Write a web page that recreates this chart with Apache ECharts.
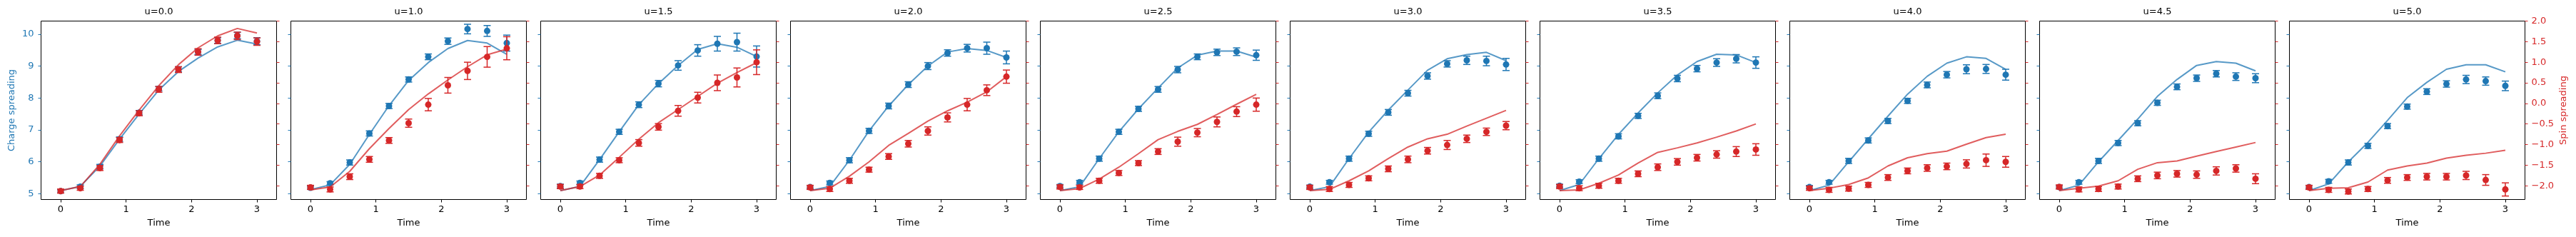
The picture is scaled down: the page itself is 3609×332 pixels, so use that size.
<!DOCTYPE html>
<html>
<head>
<meta charset="utf-8">
<script src="https://cdn.jsdelivr.net/npm/echarts@6.0.0/dist/echarts.min.js"></script>
<style>
  html, body { margin: 0; padding: 0; background: #fff; }
  #chart { width: 3609px; height: 332px; }
</style>
</head>
<body>
<div id="chart"></div>
<script>
// Evolution times shared by all panels
const times = [0, 0.3, 0.6, 0.9, 1.2, 1.5, 1.8, 2.1, 2.4, 2.7, 3.0];
const panelTitles = ['u=0.0', 'u=1.0', 'u=1.5', 'u=2.0', 'u=2.5', 'u=3.0', 'u=3.5', 'u=4.0', 'u=4.5', 'u=5.0'];
const timeTicks = [0, 1, 2, 3];
const chargeTicks = [5, 6, 7, 8, 9, 10];
const spinTicks = [-2, -1.5, -1, -0.5, 0, 0.5, 1, 1.5, 2];

// Charge spreading: simulation curve, measured points and their errors (one row per u)
const chargeTheory = [
  [5.10, 5.23, 5.87, 6.71, 7.50, 8.25, 8.83, 9.25, 9.60, 9.81, 9.69],
  [5.13, 5.28, 5.92, 6.86, 7.76, 8.55, 9.11, 9.55, 9.80, 9.72, 9.37],
  [5.10, 5.23, 6.07, 6.94, 7.79, 8.45, 9.02, 9.52, 9.70, 9.59, 9.30],
  [5.10, 5.23, 6.05, 6.97, 7.75, 8.42, 9.00, 9.44, 9.55, 9.49, 9.27],
  [5.10, 5.22, 6.10, 6.94, 7.66, 8.31, 8.94, 9.34, 9.47, 9.47, 9.28],
  [5.10, 5.22, 6.10, 6.93, 7.62, 8.25, 8.87, 9.23, 9.36, 9.43, 9.17],
  [5.10, 5.29, 6.10, 6.86, 7.53, 8.16, 8.72, 9.14, 9.37, 9.35, 9.11],
  [5.10, 5.27, 6.00, 6.72, 7.43, 8.12, 8.68, 9.09, 9.29, 9.24, 8.90],
  [5.10, 5.27, 6.00, 6.67, 7.34, 8.05, 8.58, 9.02, 9.14, 9.09, 8.85],
  [5.10, 5.31, 6.00, 6.61, 7.30, 8.01, 8.49, 8.90, 9.04, 9.04, 8.82]
];
const chargeMeasured = [
  [5.08, 5.22, 5.85, 6.71, 7.54, 8.29, 8.90, 9.44, 9.80, 9.96, 9.78],
  [5.19, 5.33, 5.98, 6.89, 7.75, 8.58, 9.29, 9.78, 10.16, 10.10, 9.72],
  [5.24, 5.34, 6.07, 6.94, 7.79, 8.45, 9.02, 9.49, 9.70, 9.75, 9.30],
  [5.21, 5.34, 6.05, 6.97, 7.75, 8.42, 9.00, 9.41, 9.56, 9.56, 9.27],
  [5.24, 5.36, 6.10, 6.94, 7.66, 8.27, 8.89, 9.29, 9.43, 9.45, 9.34],
  [5.22, 5.36, 6.10, 6.88, 7.55, 8.15, 8.69, 9.07, 9.18, 9.16, 9.05],
  [5.25, 5.38, 6.10, 6.80, 7.44, 8.07, 8.61, 8.92, 9.11, 9.23, 9.11],
  [5.21, 5.36, 6.03, 6.67, 7.28, 7.91, 8.41, 8.73, 8.90, 8.91, 8.73],
  [5.21, 5.36, 6.03, 6.59, 7.21, 7.85, 8.35, 8.62, 8.76, 8.67, 8.62],
  [5.21, 5.39, 5.98, 6.50, 7.12, 7.73, 8.20, 8.44, 8.58, 8.53, 8.38]
];
const chargeError = [
  [0.05, 0.06, 0.07, 0.07, 0.07, 0.07, 0.08, 0.08, 0.09, 0.10, 0.11],
  [0.05, 0.05, 0.08, 0.08, 0.08, 0.08, 0.09, 0.10, 0.15, 0.17, 0.25],
  [0.06, 0.06, 0.08, 0.08, 0.09, 0.10, 0.15, 0.18, 0.23, 0.28, 0.33],
  [0.05, 0.06, 0.08, 0.08, 0.09, 0.09, 0.11, 0.10, 0.12, 0.19, 0.20],
  [0.05, 0.06, 0.08, 0.08, 0.08, 0.09, 0.10, 0.09, 0.10, 0.12, 0.16],
  [0.05, 0.06, 0.08, 0.08, 0.09, 0.09, 0.10, 0.10, 0.13, 0.15, 0.19],
  [0.05, 0.06, 0.08, 0.08, 0.08, 0.09, 0.10, 0.10, 0.12, 0.13, 0.18],
  [0.05, 0.06, 0.08, 0.08, 0.08, 0.08, 0.09, 0.10, 0.14, 0.14, 0.17],
  [0.05, 0.06, 0.08, 0.08, 0.08, 0.08, 0.09, 0.10, 0.10, 0.12, 0.14],
  [0.05, 0.06, 0.08, 0.08, 0.08, 0.08, 0.09, 0.10, 0.13, 0.13, 0.15]
];

// Spin spreading: simulation curve, measured points and their errors (one row per u)
const spinTheory = [
  [-2.12, -2.02, -1.48, -0.79, -0.16, 0.43, 0.94, 1.35, 1.64, 1.82, 1.71],
  [-2.10, -2.03, -1.65, -1.10, -0.61, -0.15, 0.23, 0.57, 0.89, 1.18, 1.32],
  [-2.12, -2.02, -1.74, -1.31, -0.87, -0.47, -0.15, 0.17, 0.49, 0.75, 0.99],
  [-2.12, -2.06, -1.77, -1.42, -1.02, -0.73, -0.43, -0.18, 0.03, 0.28, 0.65],
  [-2.12, -2.07, -1.84, -1.55, -1.22, -0.88, -0.68, -0.51, -0.27, -0.02, 0.22],
  [-2.12, -2.09, -1.88, -1.64, -1.34, -1.06, -0.86, -0.75, -0.55, -0.36, -0.17],
  [-2.12, -2.10, -1.94, -1.74, -1.45, -1.19, -1.08, -0.96, -0.82, -0.67, -0.50],
  [-2.12, -2.06, -1.97, -1.81, -1.52, -1.32, -1.22, -1.16, -0.99, -0.83, -0.75],
  [-2.12, -2.06, -2.01, -1.88, -1.60, -1.44, -1.40, -1.28, -1.17, -1.06, -0.95],
  [-2.12, -2.06, -2.05, -1.91, -1.62, -1.52, -1.45, -1.33, -1.26, -1.21, -1.14]
];
const spinMeasured = [
  [-2.13, -2.06, -1.57, -0.89, -0.24, 0.34, 0.82, 1.25, 1.53, 1.64, 1.50],
  [-2.04, -2.09, -1.78, -1.36, -0.90, -0.48, -0.03, 0.44, 0.79, 1.13, 1.34],
  [-2.02, -2.02, -1.76, -1.38, -0.96, -0.57, -0.18, 0.14, 0.50, 0.63, 1.00],
  [-2.04, -2.08, -1.88, -1.61, -1.29, -0.98, -0.67, -0.34, -0.03, 0.32, 0.65],
  [-2.03, -2.04, -1.88, -1.69, -1.45, -1.17, -0.93, -0.71, -0.45, -0.20, -0.03],
  [-2.04, -2.08, -1.98, -1.82, -1.59, -1.36, -1.15, -1.01, -0.86, -0.69, -0.54],
  [-2.02, -2.06, -2.00, -1.88, -1.71, -1.55, -1.42, -1.32, -1.24, -1.17, -1.12],
  [-2.06, -2.10, -2.07, -1.98, -1.80, -1.64, -1.57, -1.53, -1.47, -1.38, -1.42],
  [-2.03, -2.09, -2.08, -2.02, -1.83, -1.75, -1.71, -1.73, -1.64, -1.58, -1.83],
  [-2.04, -2.10, -2.14, -2.08, -1.87, -1.80, -1.78, -1.78, -1.75, -1.86, -2.09]
];
const spinError = [
  [0.05, 0.05, 0.06, 0.06, 0.06, 0.07, 0.07, 0.08, 0.08, 0.09, 0.09],
  [0.05, 0.06, 0.07, 0.07, 0.07, 0.10, 0.15, 0.19, 0.21, 0.25, 0.28],
  [0.05, 0.05, 0.06, 0.06, 0.08, 0.08, 0.13, 0.13, 0.19, 0.23, 0.30],
  [0.05, 0.06, 0.06, 0.06, 0.07, 0.08, 0.10, 0.11, 0.15, 0.13, 0.16],
  [0.05, 0.05, 0.06, 0.06, 0.06, 0.07, 0.11, 0.10, 0.12, 0.12, 0.16],
  [0.05, 0.06, 0.06, 0.06, 0.07, 0.08, 0.08, 0.11, 0.09, 0.09, 0.10],
  [0.05, 0.06, 0.06, 0.06, 0.07, 0.08, 0.08, 0.08, 0.09, 0.12, 0.14],
  [0.05, 0.06, 0.06, 0.06, 0.07, 0.07, 0.08, 0.08, 0.10, 0.15, 0.13],
  [0.05, 0.06, 0.06, 0.06, 0.07, 0.08, 0.08, 0.09, 0.10, 0.09, 0.12],
  [0.05, 0.06, 0.06, 0.06, 0.07, 0.07, 0.08, 0.08, 0.10, 0.13, 0.16]
];

const BLUE = '#1f77b4';
const RED = '#d62728';
const FONT = 'DejaVu Sans';
const FONT_SIZE = 13;

// half-pixel offsets keep the 1px frame crisp
const PANEL_LEFT = 57.5;
const PANEL_STEP = 350;
const PANEL_W = 330;
const PANEL_TOP = 29.5;
const PANEL_H = 250;

function fmtSpin(v) {
  return (v < 0 ? '\u2212' : '') + Math.abs(v).toFixed(1);
}

// Error bar with caps plus a filled circle at the measured value
function errorBarRenderer(color) {
  return function (params, api) {
    const x = api.value(0), y = api.value(1), e = api.value(2);
    const c = api.coord([x, y]);
    const lo = api.coord([x, y - e]);
    const hi = api.coord([x, y + e]);
    const cap = 5;
    const ls = { stroke: color, lineWidth: 1.5 };
    return {
      type: 'group',
      children: [
        { type: 'line', shape: { x1: c[0], y1: lo[1], x2: c[0], y2: hi[1] }, style: ls },
        { type: 'line', shape: { x1: c[0] - cap, y1: lo[1], x2: c[0] + cap, y2: lo[1] }, style: ls },
        { type: 'line', shape: { x1: c[0] - cap, y1: hi[1], x2: c[0] + cap, y2: hi[1] }, style: ls },
        { type: 'circle', shape: { cx: c[0], cy: c[1], r: 4.5 }, style: { fill: color } }
      ]
    };
  };
}

const grids = [], xAxes = [], yAxes = [], series = [], graphics = [];
const nPanels = panelTitles.length;

for (let k = 0; k < nPanels; k++) {
  const left = PANEL_LEFT + PANEL_STEP * k;
  grids.push({
    left: left, top: PANEL_TOP, width: PANEL_W, height: PANEL_H,
    show: true, borderColor: '#000', borderWidth: 1, backgroundColor: 'transparent',
    containLabel: false, outerBoundsMode: 'none'
  });

  xAxes.push({
    gridIndex: k, type: 'value', position: 'bottom', min: -0.3, max: 3.3,
    axisLine: { show: false, onZero: false },
    splitLine: { show: false },
    axisTick: { show: true, customValues: timeTicks, length: 4, lineStyle: { color: '#000', width: 1 } },
    axisLabel: { customValues: timeTicks, color: '#000', fontFamily: FONT, fontSize: FONT_SIZE, margin: 8,
      formatter: v => String(v) },
    name: 'Time', nameLocation: 'middle', nameGap: 27, nameMoveOverlap: false,
    nameTextStyle: { color: '#000', fontFamily: FONT, fontSize: FONT_SIZE }
  });

  const firstPanel = k === 0;
  const lastPanel = k === nPanels - 1;

  // left axis: charge spreading
  yAxes.push({
    gridIndex: k, type: 'value', position: 'left', min: 4.82, max: 10.41,
    axisLine: { show: false, onZero: false },
    splitLine: { show: false },
    axisTick: { show: true, customValues: chargeTicks, length: 4, lineStyle: { color: BLUE, width: 1 } },
    axisLabel: { show: firstPanel, customValues: chargeTicks, color: BLUE, fontFamily: FONT, fontSize: FONT_SIZE,
      margin: 10, formatter: v => String(v) },
    name: firstPanel ? 'Charge spreading' : '', nameLocation: 'middle', nameRotate: 90, nameGap: 34,
    nameMoveOverlap: false,
    nameTextStyle: { color: BLUE, fontFamily: FONT, fontSize: FONT_SIZE }
  });

  // right axis: spin spreading
  yAxes.push({
    gridIndex: k, type: 'value', position: 'right', min: -2.335, max: 2.0,
    axisLine: { show: false, onZero: false },
    splitLine: { show: false },
    axisTick: { show: true, customValues: spinTicks, length: 4, lineStyle: { color: RED, width: 1 } },
    axisLabel: { show: lastPanel, customValues: spinTicks, color: RED, fontFamily: FONT, fontSize: FONT_SIZE,
      margin: 9, formatter: fmtSpin, showMaxLabel: true, showMinLabel: true },
    name: lastPanel ? 'Spin spreading' : '', nameLocation: 'middle', nameRotate: 90, nameGap: 48,
    nameMoveOverlap: false,
    nameTextStyle: { color: RED, fontFamily: FONT, fontSize: FONT_SIZE }
  });

  const yLeft = 2 * k, yRight = 2 * k + 1;

  series.push({
    type: 'line', xAxisIndex: k, yAxisIndex: yLeft, showSymbol: false, silent: true, z: 2,
    lineStyle: { color: BLUE, width: 2, opacity: 0.75 },
    data: times.map((t, i) => [t, chargeTheory[k][i]])
  });
  series.push({
    type: 'custom', xAxisIndex: k, yAxisIndex: yLeft, silent: true, z: 3,
    renderItem: errorBarRenderer(BLUE),
    data: times.map((t, i) => [t, chargeMeasured[k][i], chargeError[k][i]])
  });
  series.push({
    type: 'line', xAxisIndex: k, yAxisIndex: yRight, showSymbol: false, silent: true, z: 4,
    lineStyle: { color: RED, width: 2, opacity: 0.75 },
    data: times.map((t, i) => [t, spinTheory[k][i]])
  });
  series.push({
    type: 'custom', xAxisIndex: k, yAxisIndex: yRight, silent: true, z: 5,
    renderItem: errorBarRenderer(RED),
    data: times.map((t, i) => [t, spinMeasured[k][i], spinError[k][i]])
  });

  graphics.push({
    type: 'text', x: left + PANEL_W / 2, y: 16.5, silent: true,
    style: {
      text: panelTitles[k], fill: '#000', font: FONT_SIZE + 'px "' + FONT + '"',
      align: 'center', verticalAlign: 'middle', textAlign: 'center', textVerticalAlign: 'middle'
    }
  });
}

const chart = echarts.init(document.getElementById('chart'), null, { renderer: 'canvas' });
chart.setOption({
  animation: false,
  backgroundColor: '#fff',
  textStyle: { fontFamily: FONT },
  grid: grids,
  xAxis: xAxes,
  yAxis: yAxes,
  series: series,
  graphic: graphics
});
</script>
</body>
</html>
